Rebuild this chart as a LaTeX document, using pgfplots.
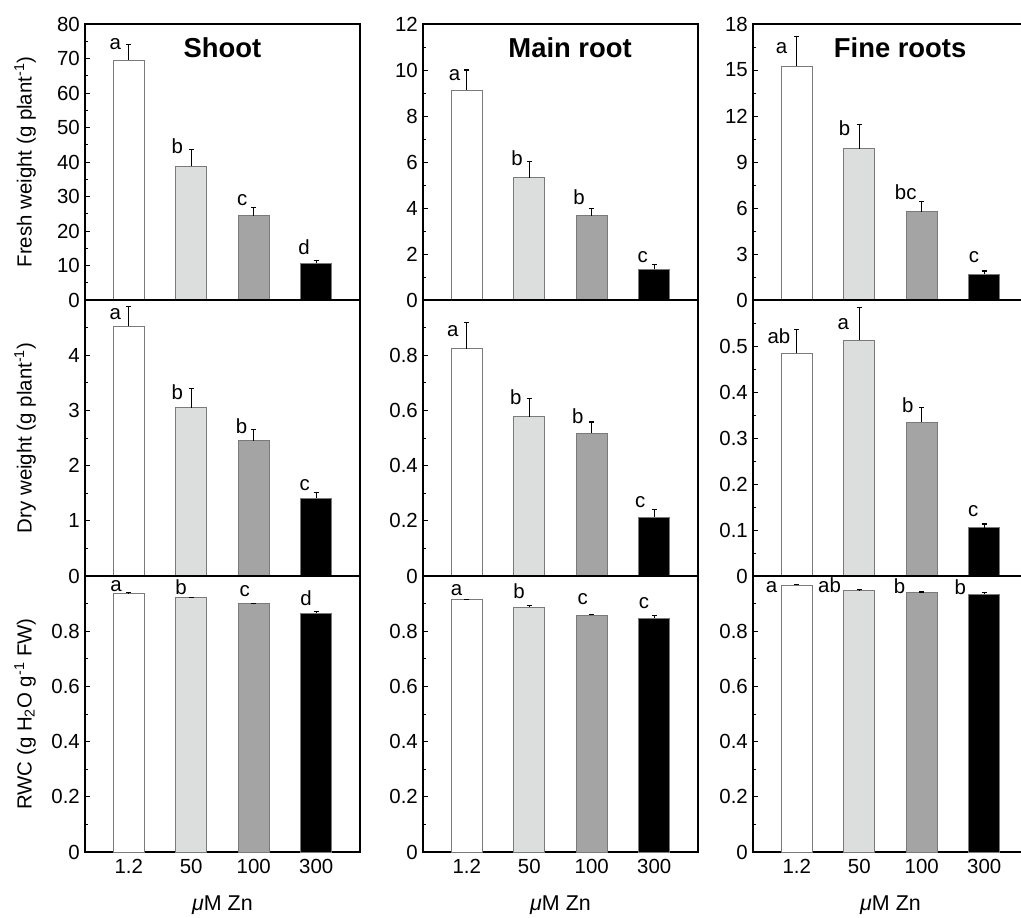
\documentclass[border=0pt]{standalone}
\usepackage{pgfplots}
\pgfplotsset{compat=1.18}
\usepackage{fontspec}
\setmainfont{Liberation Sans}
\definecolor{lg}{HTML}{DCDEDD}
\definecolor{mg}{HTML}{A4A4A4}
\definecolor{edge}{HTML}{7A7A7A}
\newcommand{\tfont}{\fontsize{20.5}{24}\selectfont}
\newcommand{\lfont}{\fontsize{20.5}{24}\selectfont}
\newcommand{\xfont}{\fontsize{21.5}{25}\selectfont}
\newcommand{\ttl}{\fontsize{27.5}{31}\selectfont\bfseries}
\newcommand{\lab}[3]{\node[anchor=base east,inner sep=0pt,font=\tfont] at (axis cs:#1,#2) {#3};}
\pgfplotsset{
  panel/.style={scale only axis, width=275bp, height=276bp, anchor=north west,
    xmin=-0.7, xmax=3.7, ymin=0, xtick={0,1,2,3}, xticklabels={},
    major x tick style={draw=none}, ytick pos=left, tick align=inside,
    axis line style={line width=1.4bp}, tick style={black, line width=0.9bp},
    major tick length=4.5bp, minor tick length=2.5bp,
    tick label style={font=\tfont},
    yticklabel style={inner sep=0pt, anchor=east, xshift=-5bp},
    xticklabel style={inner sep=0pt, anchor=north, yshift=-7bp},
    /pgf/number format/assume math mode=true,
    ylabel style={font=\lfont, at={(axis description cs:-0.218,0.5)}, anchor=center},
    xlabel style={font=\xfont, at={(axis description cs:0.5,-0.192)}, anchor=center},
    clip=false},
  bar/.style={ybar, bar width=0.5, bar shift=0pt, fill=#1, draw=edge, line width=0.8bp,
    error bars/.cd, y dir=plus, y explicit,
    error bar style={black, line width=1.1bp},
    error mark options={rotate=90, mark size=2.6bp, black, line width=1.1bp}},
}
\begin{document}
\begin{tikzpicture}
% ---------------- Row 1: fresh weight
\begin{axis}[panel, at={(85bp,-24bp)}, ymax=80, ytick={0,10,...,80},
  minor ytick={5,15,...,75}, ylabel={Fresh weight (g plant\textsuperscript{-1})}]
\addplot[bar=white] coordinates {(0,69.5) +- (0,4.6)};
\addplot[bar=lg] coordinates {(1,38.8) +- (0,4.8)};
\addplot[bar=mg] coordinates {(2,24.4) +- (0,2.3)};
\addplot[bar=black] coordinates {(3,10.6) +- (0,0.9)};
\lab{-0.12}{72.6}{a}\lab{0.87}{42.4}{b}\lab{1.9}{27.4}{c}\lab{2.9}{13.3}{d}
\node[font=\ttl] at (rel axis cs:0.5,0.913) {Shoot};
\end{axis}
\begin{axis}[panel, at={(423bp,-24bp)}, ymax=12, ytick={0,2,...,12},
  minor ytick={1,3,...,11}]
\addplot[bar=white] coordinates {(0,9.12) +- (0,0.88)};
\addplot[bar=lg] coordinates {(1,5.32) +- (0,0.69)};
\addplot[bar=mg] coordinates {(2,3.67) +- (0,0.29)};
\addplot[bar=black] coordinates {(3,1.35) +- (0,0.19)};
\lab{-0.1}{9.54}{a}\lab{0.9}{5.84}{b}\lab{1.89}{4.17}{b}\lab{2.9}{1.64}{c}
\node[font=\ttl] at (rel axis cs:0.535,0.913) {Main root};
\end{axis}
\begin{axis}[panel, at={(753bp,-24bp)}, ymax=18, ytick={0,3,...,18},
  minor ytick={1.5,4.5,...,16.5}]
\addplot[bar=white] coordinates {(0,15.24) +- (0,1.96)};
\addplot[bar=lg] coordinates {(1,9.88) +- (0,1.57)};
\addplot[bar=mg] coordinates {(2,5.75) +- (0,0.67)};
\addplot[bar=black] coordinates {(3,1.70) +- (0,0.19)};
\lab{-0.15}{16.1}{a}\lab{0.86}{10.7}{b}\lab{1.92}{6.53}{bc}\lab{2.92}{2.44}{c}
\node[font=\ttl] at (rel axis cs:0.535,0.913) {Fine roots};
\end{axis}
% ---------------- Row 2: dry weight
\begin{axis}[panel, at={(85bp,-300bp)}, ymax=5, ytick={0,1,2,3,4},
  minor ytick={0.5,1.5,2.5,3.5,4.5}, ylabel={Dry weight (g plant\textsuperscript{-1})}]
\addplot[bar=white] coordinates {(0,4.52) +- (0,0.37)};
\addplot[bar=lg] coordinates {(1,3.05) +- (0,0.34)};
\addplot[bar=mg] coordinates {(2,2.45) +- (0,0.20)};
\addplot[bar=black] coordinates {(3,1.41) +- (0,0.11)};
\lab{-0.12}{4.64}{a}\lab{0.87}{3.19}{b}\lab{1.9}{2.59}{b}\lab{2.9}{1.55}{c}
\end{axis}
\begin{axis}[panel, at={(423bp,-300bp)}, ymax=1, ytick={0,0.2,0.4,0.6,0.8},
  minor ytick={0.1,0.3,0.5,0.7,0.9}]
\addplot[bar=white] coordinates {(0,0.823) +- (0,0.095)};
\addplot[bar=lg] coordinates {(1,0.577) +- (0,0.065)};
\addplot[bar=mg] coordinates {(2,0.518) +- (0,0.040)};
\addplot[bar=black] coordinates {(3,0.213) +- (0,0.029)};
\lab{-0.13}{0.869}{a}\lab{0.88}{0.621}{b}\lab{1.87}{0.554}{b}\lab{2.86}{0.248}{c}
\end{axis}
\begin{axis}[panel, at={(753bp,-300bp)}, ymax=0.6, ytick={0,0.1,0.2,0.3,0.4,0.5},
  minor ytick={0.05,0.15,0.25,0.35,0.45,0.55}]
\addplot[bar=white] coordinates {(0,0.485) +- (0,0.051)};
\addplot[bar=lg] coordinates {(1,0.512) +- (0,0.071)};
\addplot[bar=mg] coordinates {(2,0.334) +- (0,0.032)};
\addplot[bar=black] coordinates {(3,0.105) +- (0,0.008)};
\lab{-0.1}{0.505}{ab}\lab{0.84}{0.536}{a}\lab{1.87}{0.356}{b}\lab{2.91}{0.129}{c}
\end{axis}
% ---------------- Row 3: RWC
\begin{axis}[panel, at={(85bp,-576bp)}, ymax=1, ytick={0,0.2,0.4,0.6,0.8},
  minor ytick={0.1,0.3,0.5,0.7,0.9}, xticklabels={1.2,50,100,300},
  ylabel={RWC (g H\textsubscript{2}O g\textsuperscript{-1} FW)},
  xlabel={\textit{μ}M Zn}]
\addplot[bar=white] coordinates {(0,0.937) +- (0,0.002)};
\addplot[bar=lg] coordinates {(1,0.921) +- (0,0.002)};
\addplot[bar=mg] coordinates {(2,0.900) +- (0,0.002)};
\addplot[bar=black] coordinates {(3,0.866) +- (0,0.004)};
\lab{-0.11}{0.943}{a}\lab{0.93}{0.933}{b}\lab{1.94}{0.924}{c}\lab{2.93}{0.892}{d}
\end{axis}
\begin{axis}[panel, at={(423bp,-576bp)}, ymax=1, ytick={0,0.2,0.4,0.6,0.8},
  minor ytick={0.1,0.3,0.5,0.7,0.9}, xticklabels={1.2,50,100,300},
  xlabel={\textit{μ}M Zn}]
\addplot[bar=white] coordinates {(0,0.914) +- (0,0.002)};
\addplot[bar=lg] coordinates {(1,0.888) +- (0,0.006)};
\addplot[bar=mg] coordinates {(2,0.857) +- (0,0.005)};
\addplot[bar=black] coordinates {(3,0.848) +- (0,0.008)};
\lab{-0.07}{0.930}{a}\lab{0.93}{0.918}{b}\lab{1.94}{0.895}{c}\lab{2.92}{0.882}{c}
\end{axis}
\begin{axis}[panel, at={(753bp,-576bp)}, ymax=1, ytick={0,0.2,0.4,0.6,0.8},
  minor ytick={0.1,0.3,0.5,0.7,0.9}, xticklabels={1.2,50,100,300},
  xlabel={\textit{μ}M Zn}]
\addplot[bar=white] coordinates {(0,0.967) +- (0,0.003)};
\addplot[bar=lg] coordinates {(1,0.948) +- (0,0.002)};
\addplot[bar=mg] coordinates {(2,0.939) +- (0,0.003)};
\addplot[bar=black] coordinates {(3,0.935) +- (0,0.006)};
\lab{-0.31}{0.939}{a}\lab{0.71}{0.939}{ab}\lab{1.74}{0.936}{b}\lab{2.71}{0.932}{b}
\end{axis}
\pgfresetboundingbox
\useasboundingbox (0,0) rectangle (1021bp,-918bp);
\end{tikzpicture}
\end{document}
